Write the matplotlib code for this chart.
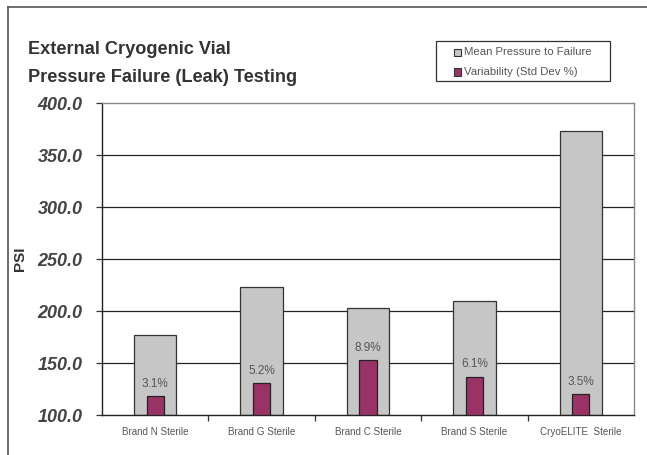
import matplotlib
matplotlib.use("Agg")
import matplotlib.pyplot as plt
from matplotlib.patches import Rectangle
from matplotlib.lines import Line2D

categories = ["Brand N Sterile", "Brand G Sterile", "Brand C Sterile", "Brand S Sterile", "CryoELITE  Sterile"]
mean_pressure = [177, 223, 203, 210, 373]
variability_bar = [118, 131, 153, 137, 120]
variability_labels = ["3.1%", "5.2%", "8.9%", "6.1%", "3.5%"]
yticks = [100, 150, 200, 250, 300, 350, 400]
legend_labels = ["Mean Pressure to Failure", "Variability (Std Dev %)"]

GRAY = "#C6C6C7"
PLUM = "#993366"

plt.rcParams['font.family'] = ['Liberation Sans', 'DejaVu Sans']

W, H = 647, 455
fig = plt.figure(figsize=(6.47, 4.55), dpi=100)
fig.patch.set_facecolor("white")

def fx(px):
    return px / W

def fy(py):
    return 1 - py / H

# outer frame lines (top and left)
fig.add_artist(Line2D([fx(8), 1.0], [fy(7), fy(7)], color="#555555", lw=1.2, transform=fig.transFigure))
fig.add_artist(Line2D([fx(8), fx(8)], [0, fy(7)], color="#555555", lw=1.2, transform=fig.transFigure))

ax = fig.add_axes([fx(102), 40 / H, 532 / W, 312 / H])
x = list(range(len(categories)))

ax.set_xlim(-0.5, len(categories) - 0.5)
ax.set_ylim(100, 400)

for yv in yticks[1:-1]:
    ax.axhline(yv, color="#222222", lw=0.9, zorder=1)

ax.bar(x, [m - 100 for m in mean_pressure], bottom=100, width=0.40, color=GRAY,
       edgecolor="#333333", linewidth=0.9, zorder=2)
ax.bar(x, [v - 100 for v in variability_bar], bottom=100, width=0.16, color=PLUM,
       edgecolor="#222222", linewidth=0.9, zorder=3)

for xi, v, lab in zip(x, variability_bar, variability_labels):
    ax.text(xi, v + 6, lab, ha="center", va="bottom", fontsize=8.5, color="#555555", zorder=4)

ax.set_yticks(yticks)
ax.set_yticklabels([f"{v:.1f}" for v in yticks], fontsize=13, fontweight="bold",
                   fontstyle="italic", color="#444444")
ax.set_xticks([i + 0.5 for i in range(len(categories) - 1)])
ax.set_xticklabels([])
ax.tick_params(axis="x", length=4, width=0.9, color="#333333", direction="out")
ax.tick_params(axis="y", length=4, width=0.9, color="#333333", direction="out", pad=10)
for xi, cat in zip(x, categories):
    ax.text(xi, -0.055, cat, transform=ax.get_xaxis_transform(), ha="center", va="center",
            fontsize=7.1, color="#555555")

ax.spines["left"].set_color("#222222")
ax.spines["bottom"].set_color("#222222")
ax.spines["top"].set_color("#888888")
ax.spines["right"].set_color("#888888")
for s in ax.spines.values():
    s.set_linewidth(1.0)

fig.text(fx(20), fy(259), "PSI", rotation=90, ha="center", va="center",
         fontsize=11, fontweight="bold", color="#333333")

fig.text(fx(28), fy(50), "External Cryogenic Vial", ha="left", va="center",
         fontsize=13.1, fontweight="bold", color="#333333")
fig.text(fx(28), fy(78), "Pressure Failure (Leak) Testing", ha="left", va="center",
         fontsize=13.1, fontweight="bold", color="#333333")

# legend drawn manually
fig.add_artist(Rectangle((fx(436), fy(81)), fx(610) - fx(436), fy(41) - fy(81),
                         transform=fig.transFigure, facecolor="white", edgecolor="#333333",
                         linewidth=0.9))
for i, (lab, col) in enumerate(zip(legend_labels, [GRAY, PLUM])):
    cy = 52 + i * 20
    fig.add_artist(Rectangle((fx(454), fy(cy + 3.5)), 7 / W, 7 / H, transform=fig.transFigure,
                             facecolor=col, edgecolor="#333333", linewidth=0.8))
    fig.text(fx(464), fy(cy), lab, ha="left", va="center", fontsize=8.2, color="#555555")

fig.savefig("out.png", dpi=100, facecolor="white")
